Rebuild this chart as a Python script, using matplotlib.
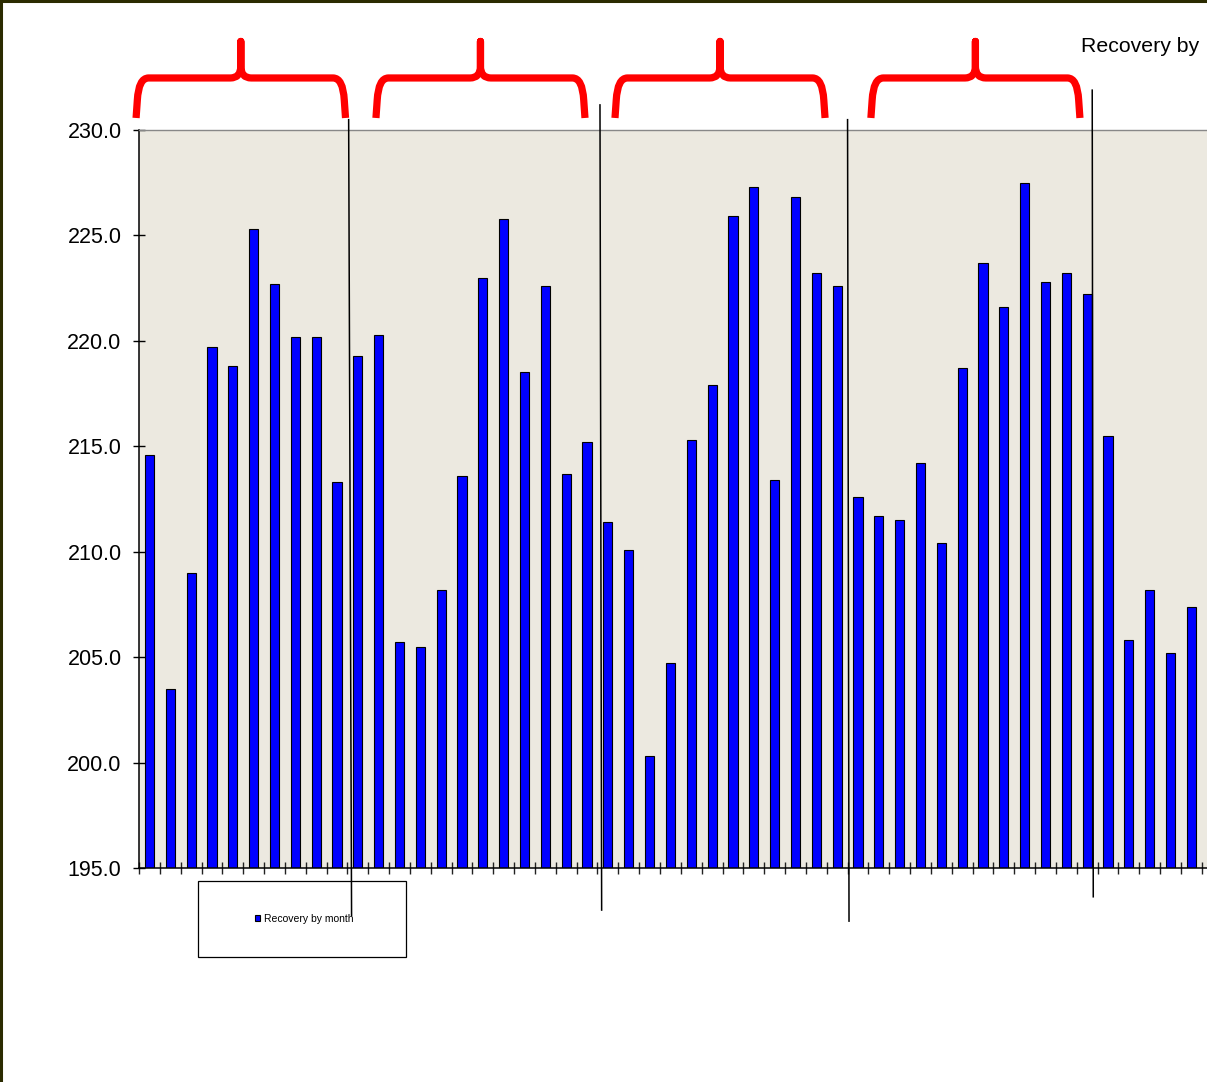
import numpy as np
import matplotlib
matplotlib.use("Agg")
import matplotlib.pyplot as plt
from matplotlib.path import Path
from matplotlib.patches import PathPatch, Rectangle
from matplotlib.transforms import blended_transform_factory

plt.rcParams['font.family'] = ['Liberation Sans', 'DejaVu Sans']

# monthly recovery values
recovery = [214.6, 203.5, 209.0, 219.7, 218.8, 225.3, 222.7, 220.2, 220.2, 213.3,
            219.3, 220.3, 205.7, 205.5, 208.2, 213.6, 223.0, 225.8, 218.5, 222.6,
            213.7, 215.2, 211.4, 210.1, 200.3, 204.7, 215.3, 217.9, 225.9, 227.3,
            213.4, 226.8, 223.2, 222.6, 212.6, 211.7, 211.5, 214.2, 210.4, 218.7,
            223.7, 221.6, 227.5, 222.8, 223.2, 222.2, 215.5, 205.8, 208.2, 205.2,
            207.4]
months = np.arange(len(recovery))
yticks = [195.0, 200.0, 205.0, 210.0, 215.0, 220.0, 225.0, 230.0]

# braces over each season (start, end in month units)
brace_spans = [(-0.14, 9.91), (11.37, 21.40), (22.84, 32.92), (35.12, 45.15)]
# hand-drawn separators: (x top, x bottom, y top, y bottom) in month / axes units
separators = [(10.06, 10.20, 1.014, -0.064),
              (22.12, 22.20, 1.034, -0.057),
              (34.00, 34.07, 1.014, -0.072),
              (45.74, 45.79, 1.054, -0.039)]

W, H = 1207, 1082
fig = plt.figure(figsize=(W / 100, H / 100), dpi=100)
fig.patch.set_facecolor('white')

step = 20.84
left_px, top_px, bottom_px = 139, 130, 868
xmax = 52
ax = fig.add_axes([left_px / W, 1 - bottom_px / H,
                   xmax * step / W, (bottom_px - top_px) / H])
ax.set_facecolor('#ECE9E0')

bars = ax.bar(months + 0.5, recovery, width=0.44, bottom=0,
              color='#0000FF', edgecolor='black', linewidth=0.8,
              label='Recovery by month', zorder=2)

ax.set_xlim(0, xmax)
ax.set_ylim(195, 230)
ax.set_yticks(yticks)
ax.set_yticklabels([f'{v:.1f}' for v in yticks])
ax.set_xticks(np.arange(0, xmax + 1))
ax.set_xticklabels([])
ax.tick_params(axis='y', direction='inout', length=8.5, width=1.0,
               labelsize=15.5, pad=8.3, colors='black')
ax.tick_params(axis='x', direction='inout', length=8.5, width=1.0,
               color='#222222')

for side in ['left', 'bottom']:
    ax.spines[side].set_color('black')
    ax.spines[side].set_linewidth(1.1)
ax.spines['top'].set_color('#888888')
ax.spines['top'].set_linewidth(1.0)
ax.spines['right'].set_visible(False)

trans = blended_transform_factory(ax.transData, ax.transAxes)


def brace(x0, x1, yb=1.0163, yh=1.0705, yt=1.120):
    xc = (x0 + x1) / 2
    rx, ry = 0.6, 0.03
    verts = [(x0, yb), (x0 + 0.06, yh - ry),
             (x0 + 0.12, yh), (x0 + rx, yh),
             (xc - 0.5, yh),
             (xc, yh), (xc, yh + 0.016),
             (xc, yt),
             (xc, yh + 0.016),
             (xc, yh), (xc + 0.5, yh),
             (x1 - rx, yh),
             (x1 - 0.12, yh), (x1 - 0.06, yh - ry),
             (x1, yb)]
    codes = [Path.MOVETO, Path.LINETO,
             Path.CURVE3, Path.CURVE3,
             Path.LINETO,
             Path.CURVE3, Path.CURVE3,
             Path.LINETO,
             Path.LINETO,
             Path.CURVE3, Path.CURVE3,
             Path.LINETO,
             Path.CURVE3, Path.CURVE3,
             Path.LINETO]
    patch = PathPatch(Path(verts, codes), transform=trans, fill=False,
                      edgecolor='#FF0000', linewidth=5.2, capstyle='butt',
                      joinstyle='round', clip_on=False, zorder=5)
    ax.add_patch(patch)


for x0, x1 in brace_spans:
    brace(x0, x1)

for xt, xb, yt, yb in separators:
    ax.plot([xt, xb], [yt, yb], color='black', linewidth=1.1,
            transform=trans, clip_on=False, zorder=6)

# legend box below the axis
fig.patches.append(Rectangle((198 / W, 1 - 957 / H), 208 / W, 76 / H,
                             transform=fig.transFigure, facecolor='white',
                             edgecolor='black', linewidth=0.9, zorder=-1))
leg = ax.legend(handles=[bars], loc='center', frameon=False, fontsize=7.5,
                handlelength=0.55, handleheight=0.55, handletextpad=0.35,
                borderpad=0, bbox_to_anchor=(304 / W, 1 - 918.5 / H),
                bbox_transform=fig.transFigure)
leg.set_zorder(7)

fig.text(1081 / W, 1 - 52 / H, 'Recovery by', fontsize=15.3,
         ha='left', va='baseline', color='black')

# outer chart border
fig.patches.append(Rectangle((0.001, -0.2), 1.5, 1.199,
                             transform=fig.transFigure, fill=False,
                             edgecolor='#2B2B00', linewidth=2.2))

fig.savefig('out.png', dpi=100, facecolor='white')
